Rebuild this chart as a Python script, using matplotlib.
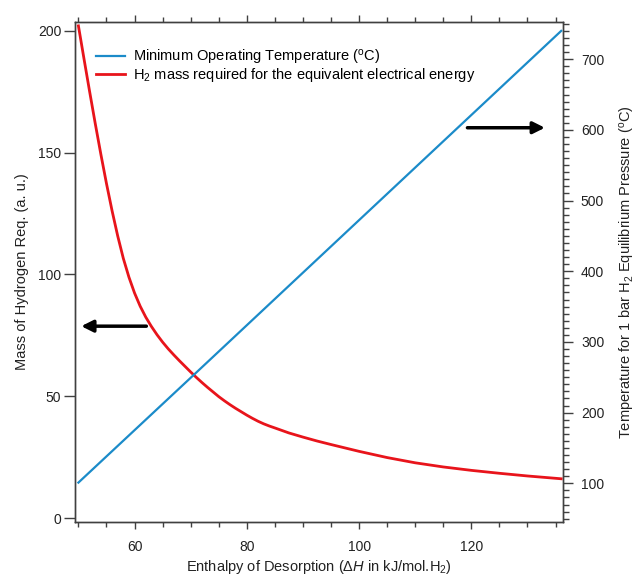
import numpy as np
import matplotlib
matplotlib.use("Agg")
import matplotlib.pyplot as plt
from matplotlib.ticker import MultipleLocator

plt.rcParams['font.family'] = ['Liberation Sans', 'DejaVu Sans']
plt.rcParams['mathtext.fontset'] = 'custom'
plt.rcParams['mathtext.rm'] = 'Liberation Sans'
plt.rcParams['mathtext.it'] = 'Liberation Sans:italic'

# values
dh_mass = [50, 51, 52, 53, 54, 55, 56, 57, 58, 59, 60, 61, 62, 63, 64, 65, 66,
           67, 68, 69, 70, 71, 72, 73, 74, 75, 76, 77, 78, 79, 80, 81, 82, 83,
           84, 85, 87.5, 90, 92.5, 95, 97.5, 100, 105, 110, 115, 120, 125,
           130, 136]
h2_mass = [202, 188.4, 175.0, 161.9, 149.3, 137.3, 126.1, 115.8, 106.6, 98.9,
           92.4, 87.0, 82.5, 78.7, 75.3, 72.25, 69.5, 67.0, 64.6, 62.3, 60.0,
           57.8, 55.7, 53.7, 51.8, 49.9, 48.2, 46.6, 45.1, 43.7, 42.3, 41.0,
           39.8, 38.75, 37.85, 37.05, 35.0, 33.3, 31.7, 30.25, 28.85, 27.45,
           24.9, 22.75, 21.05, 19.65, 18.45, 17.35, 16.2]

dh_temp = [50, 70.5, 136]
min_temp = [101, 253, 740]

blue = '#1b8bc9'
red = '#e8141b'
grey = '#404040'
txt = '#222222'

fig = plt.figure(figsize=(6.36, 5.79), dpi=100)
ax = fig.add_axes([0.118, 0.099, 0.767, 0.8635])
ax2 = ax.twinx()

ax.plot(dh_mass, h2_mass, color=red, lw=2.0, zorder=3)
ax2.plot(dh_temp, min_temp, color=blue, lw=1.6)

ax.set_xlim(49.4, 136.3)
ax.set_ylim(-1.4, 203.7)
ax2.set_ylim(45.7, 753)

ax.xaxis.set_major_locator(MultipleLocator(20))
ax.xaxis.set_minor_locator(MultipleLocator(5))
ax.yaxis.set_major_locator(MultipleLocator(50))
ax2.yaxis.set_major_locator(MultipleLocator(100))
ax2.yaxis.set_minor_locator(MultipleLocator(10))

for a in (ax, ax2):
    for s in a.spines.values():
        s.set_color(grey)
        s.set_linewidth(1.0)

ax.tick_params(axis='x', which='both', direction='out', top=True, colors=grey,
               labelcolor=txt, labelsize=10, pad=8)
ax.tick_params(axis='x', which='major', length=5, width=1)
ax.tick_params(axis='x', which='minor', length=3.5, width=1)
ax.tick_params(axis='y', which='major', direction='out', length=8, width=1,
               colors=grey, labelcolor=txt, labelsize=10, pad=2)
ax2.tick_params(axis='y', which='major', direction='out', length=7, width=1,
                colors=grey, labelcolor=txt, labelsize=10, pad=6)
ax2.tick_params(axis='y', which='minor', direction='out', length=4, width=1,
                colors=grey)

ax.set_xlabel(r'Enthalpy of Desorption ($\Delta\mathit{H}$ in kJ/mol.H$_2$)',
              fontsize=10.5, color=txt, labelpad=3)
ax.set_ylabel('Mass of Hydrogen Req. (a. u.)', fontsize=10.5, color=txt,
              labelpad=6)
ax2.set_ylabel(r'Temperature for 1 bar H$_2$ Equilibrium Pressure ($^{\rm o}$C)',
               fontsize=10.5, color=txt, labelpad=10)

# direction arrows
ax.annotate('', xy=(50.5, 78.8), xytext=(62.1, 78.8),
            arrowprops=dict(arrowstyle='-|>,head_length=0.7,head_width=0.35',
                            color='black', lw=2.5, shrinkA=0, shrinkB=0))
ax2.annotate('', xy=(133.1, 603), xytext=(119.3, 603),
             arrowprops=dict(arrowstyle='-|>,head_length=0.7,head_width=0.35',
                             color='black', lw=2.5, shrinkA=0, shrinkB=0))

h1, = ax.plot([], [], color=blue, lw=1.6)
h2, = ax.plot([], [], color=red, lw=2.0)
ax.legend([h1, h2], [r'Minimum Operating Temperature ($^{\rm o}$C)',
                     r'H$_2$ mass required for the equivalent electrical energy'],
          loc='upper left', bbox_to_anchor=(0.03, 0.96), frameon=False,
          fontsize=10.5, handlelength=2.0, handletextpad=0.6, labelspacing=-0.05,
          borderaxespad=0)

fig.savefig('out.png', dpi=100)
